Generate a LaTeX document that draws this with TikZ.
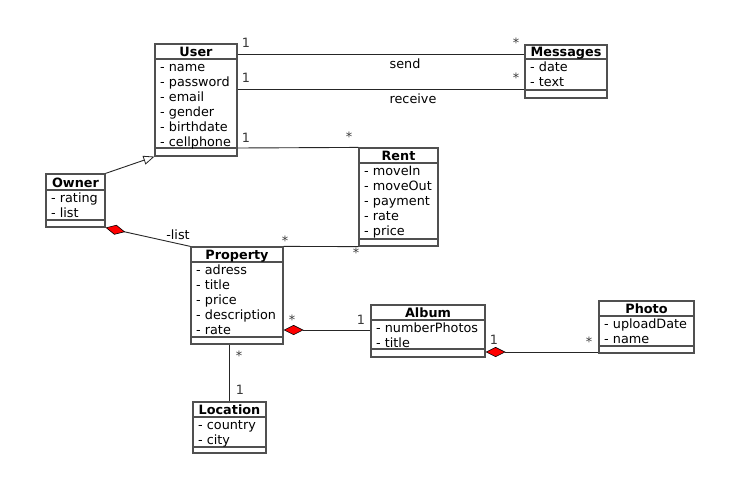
\documentclass[tikz,border=0pt]{standalone}
\usepackage{fontspec}
\setmainfont{DejaVu Sans}
\usetikzlibrary{arrows.meta,fit}
\definecolor{boxc}{HTML}{505050}
\definecolor{multc}{HTML}{3A3A3A}
\newcommand{\basefont}{\fontsize{12.8}{15}\selectfont}
\tikzset{
  cls/.style={draw=boxc, line width=1.2pt, inner sep=0pt},
  sepline/.style={draw=boxc, line width=1.2pt},
  conn/.style={draw=black!85, line width=0.9pt},
  attr/.style={anchor=base west, inner sep=0pt},
  ttl/.style={anchor=base, inner sep=0pt, font=\basefont\bfseries},
  lbl/.style={inner sep=0pt},
  mult/.style={inner sep=0pt, text=multc},
  comp/.style={{Diamond[fill=red, color=black, length=20pt, width=10pt, line width=0.6pt]}-},
  gen/.style={-{Triangle[open, length=11pt, width=9pt, line width=0.8pt]}}
}
% #1 name, #2 left, #3 top, #4 right, #5 title sep, #6 attr sep, #7 bottom, #8 title, #9 attributes
\newcommand{\umlcls}[9]{%
  \node[cls, fit={(#2,#3) (#4,#7)}] (#1) {};
  \draw[sepline] (#2,#5) -- (#4,#5);
  \draw[sepline] (#2,#6) -- (#4,#6);
  \node[ttl] (#1-t) at ({(#2+#4)/2}, #5-2.5) {#8};
  \foreach \a [count=\i from 0] in {#9} {
    \node[attr] (#1-a\i) at (#2+5, #5+12.5+15*\i) {- \a};
  }
}
\begin{document}
\begin{tikzpicture}[x=1pt, y=-1pt, font=\basefont]
\fill[white] (0,0) rectangle (747,488);
\useasboundingbox (0,0) rectangle (747,488);

\umlcls{user}{155}{44}{237}{59}{148}{156}{User}{name,password,email,gender,birthdate,cellphone}
\umlcls{msg}{525}{45}{607}{59}{90}{98}{Messages}{date,text}
\umlcls{rent}{359}{148}{438}{163}{239}{246}{Rent}{moveIn,moveOut,payment,rate,price}
\umlcls{owner}{46}{174}{105}{190}{220}{227}{Owner}{rating,list}
\umlcls{prop}{191}{247}{283}{262}{337}{344}{Property}{adress,title,price,description,rate}
\umlcls{album}{371}{305}{485}{320}{349}{357}{Album}{numberPhotos,title}
\umlcls{photo}{599}{301}{694}{316}{346}{353}{Photo}{uploadDate,name}
\umlcls{loc}{193}{402}{266}{417}{447}{453}{Location}{country,city}

% User - Messages: send
\draw[conn] (user.east |- 0,54) -- (msg.west |- 0,54);
\node[mult] (m1) at (246,43) {1};
\node[mult] (m2) at (516,43) {*};
\node[lbl] (l1) at (405,64) {send};
% User - Messages: receive
\draw[conn] (user.east |- 0,89) -- (msg.west |- 0,89);
\node[mult] (m3) at (246,78) {1};
\node[mult] (m4) at (516,78) {*};
\node[lbl] (l2) at (413,99) {receive};
% User - Rent
\draw[conn] (user.east |- 0,148) -- (rent.north west);
\node[mult] (m5) at (246,138) {1};
\node[mult] (m6) at (349,137) {*};
% Owner -> User generalization
\draw[conn, gen] (owner.north east) -- (user.south west);
% Owner - Property composition
\draw[conn, comp] (owner.south east) -- (prop.north west);
\node[lbl] (l3) at (178,235) {-list};
% Property - Rent
\draw[conn] (prop.north east) -- (rent.south west);
\node[mult] (m7) at (285,241) {*};
\node[mult] (m8) at (356,253) {*};
% Property - Album composition
\draw[conn, comp] (prop.east |- 0,330) -- (album.west |- 0,330);
\node[mult] (m9) at (292,320) {*};
\node[mult] (m10) at (361,320) {1};
% Album - Photo composition
\draw[conn, comp] (album.east |- 0,352) -- (photo.west |- 0,352);
\node[mult] (m11) at (494,340) {1};
\node[mult] (m12) at (589,342) {*};
% Property - Location
\draw[conn] (prop.south -| 229,0) -- (loc.north -| 229,0);
\node[mult] (m13) at (239,356) {*};
\node[mult] (m14) at (240,390) {1};
\end{tikzpicture}
\end{document}
